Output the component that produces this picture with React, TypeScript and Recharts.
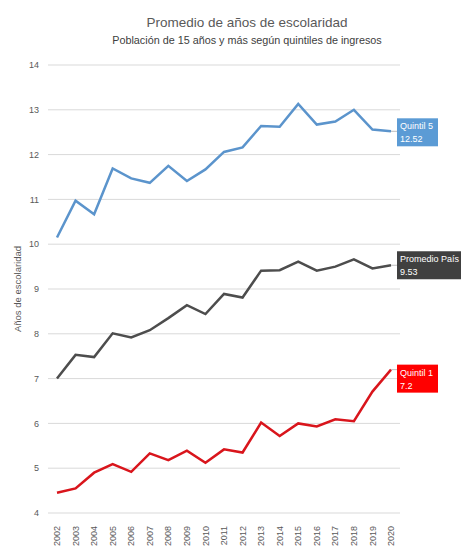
import { LineChart, Line, XAxis, YAxis, CartesianGrid, LabelList } from "recharts";

const years = [
  "2002", "2003", "2004", "2005", "2006", "2007", "2008", "2009", "2010", "2011",
  "2012", "2013", "2014", "2015", "2016", "2017", "2018", "2019", "2020",
];
const quintil5 = [
  10.15, 10.97, 10.67, 11.69, 11.47, 11.37, 11.75, 11.41, 11.67, 12.06,
  12.16, 12.64, 12.62, 13.13, 12.67, 12.74, 13.0, 12.56, 12.52,
];
const promedioPais = [
  7.0, 7.53, 7.48, 8.01, 7.92, 8.08, 8.35, 8.64, 8.44, 8.89,
  8.81, 9.41, 9.42, 9.61, 9.41, 9.5, 9.66, 9.46, 9.53,
];
const quintil1 = [
  4.45, 4.55, 4.9, 5.09, 4.92, 5.33, 5.18, 5.39, 5.12, 5.42,
  5.35, 6.02, 5.72, 6.0, 5.93, 6.09, 6.05, 6.71, 7.2,
];
const yTicks = [4, 5, 6, 7, 8, 9, 10, 11, 12, 13, 14];

const data = years.map((year, i) => ({
  year,
  q5: quintil5[i],
  prom: promedioPais[i],
  q1: quintil1[i],
}));

const font = "'Liberation Sans', Arial, sans-serif";

// end-of-line tag box, only drawn on the last point
function endLabel(title: string, value: string, bg: string, w: number, dy: number) {
  return (props: any) => {
    const { x, y, index } = props;
    if (index !== years.length - 1) return null;
    const bx = x + 6;
    const by = y - 14 + dy;
    return (
      <g>
        <line x1={x} y1={y} x2={bx} y2={y} stroke="#bfbfbf" strokeWidth={1} />
        <rect x={bx} y={by} width={w} height={28} fill={bg} />
        <text x={bx + 3} y={by + 11} fill="#fff" fontSize={9} fontFamily={font}>
          {title}
        </text>
        <text x={bx + 3} y={by + 24} fill="#fff" fontSize={9} fontFamily={font}>
          {value}
        </text>
      </g>
    );
  };
}

function YearTick(props: any) {
  const { x, y, payload } = props;
  return (
    <g transform={`translate(${x},${y})`}>
      <text
        transform="rotate(-90)"
        x={-5}
        dy="0.35em"
        textAnchor="end"
        fill="#595959"
        fontSize={9}
        fontFamily={font}
      >
        {payload.value}
      </text>
    </g>
  );
}

export default function App() {
  return (
    <div
      style={{
        position: "absolute",
        left: 0,
        top: 0,
        width: 462,
        height: 547,
        background: "#fff",
        fontFamily: font,
      }}
    >
      <div
        style={{
          position: "absolute",
          left: 16,
          top: 15,
          width: 462,
          textAlign: "center",
          fontSize: 13.5,
          color: "#595959",
        }}
      >
        Promedio de años de escolaridad
      </div>
      <div
        style={{
          position: "absolute",
          left: 16,
          top: 34,
          width: 462,
          textAlign: "center",
          fontSize: 10.8,
          color: "#404040",
        }}
      >
        Población de 15 años y más según quintiles de ingresos
      </div>
      <div style={{ position: "absolute", left: 0, top: 0 }}>
        <LineChart
          width={462}
          height={547}
          data={data}
          margin={{ top: 65, right: 62, left: 0, bottom: 0 }}
        >
          <CartesianGrid horizontal vertical={false} stroke="#d9d9d9" />
          <XAxis
            dataKey="year"
            interval={0}
            padding={{ left: 9, right: 9 }}
            axisLine={false}
            tickLine={false}
            height={34}
            tick={<YearTick />}
          />
          <YAxis
            domain={[4, 14]}
            ticks={yTicks}
            width={48}
            axisLine={false}
            tickLine={false}
            tickSize={0}
            tickMargin={9}
            tick={{ fontSize: 9, fill: "#595959", fontFamily: font }}
            label={{
              value: "Años de escolaridad",
              angle: -90,
              position: "insideLeft",
              offset: 18,
              style: { textAnchor: "middle", fontSize: 9.5, fill: "#595959", fontFamily: font },
            }}
          />
          <Line
            type="linear"
            dataKey="q5"
            stroke="#5b94cc"
            strokeWidth={2.5}
            dot={false}
            isAnimationActive={false}
          >
            <LabelList dataKey="q5" content={endLabel("Quintil 5", "12.52", "#5b9bd5", 41, 1)} />
          </Line>
          <Line
            type="linear"
            dataKey="prom"
            stroke="#4d4d4d"
            strokeWidth={2.5}
            dot={false}
            isAnimationActive={false}
          >
            <LabelList dataKey="prom" content={endLabel("Promedio País", "9.53", "#404040", 64, 0)} />
          </Line>
          <Line
            type="linear"
            dataKey="q1"
            stroke="#d9151c"
            strokeWidth={2.5}
            dot={false}
            isAnimationActive={false}
          >
            <LabelList dataKey="q1" content={endLabel("Quintil 1", "7.2", "#ff0000", 41, 9)} />
          </Line>
        </LineChart>
      </div>
    </div>
  );
}
